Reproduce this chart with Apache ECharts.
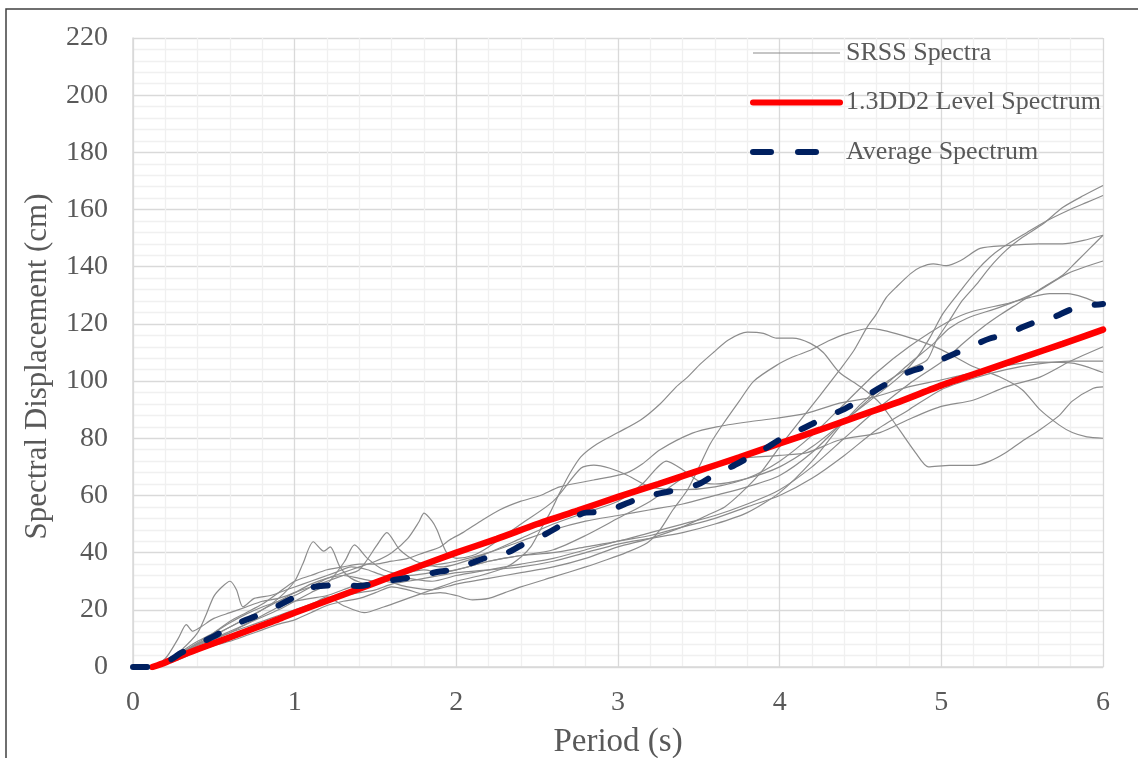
<!DOCTYPE html>
<html>
<head>
<meta charset="utf-8">
<script src="https://cdn.jsdelivr.net/npm/echarts@6/dist/echarts.min.js"></script>
<style>
  html, body { margin: 0; padding: 0; background: #fff; }
  #chart { width: 1138px; height: 758px; }
</style>
</head>
<body>
<div id="chart"></div>
<script>
// Period ticks and displacement ticks
const periodTicks = [0, 1, 2, 3, 4, 5, 6];
const dispTicks = [0, 20, 40, 60, 80, 100, 120, 140, 160, 180, 200, 220];

// SRSS spectra of the individual ground-motion pairs: [period (s), Sd (cm)]
const gm01 = [[0,0],[0.1,0],[0.2,1.5],[0.3,4],[0.4,6.5],[0.5,8.5],[0.6,10.5],[0.7,12.5],[0.8,14.5],[0.9,16.5],[1.0,18.5],[1.1,21.5],[1.2,24.5],[1.3,21.5],[1.43,19],[1.55,21],[1.7,24],[1.85,27],[2.0,30],[2.15,32],[2.31,35],[2.4,38.5],[2.46,42],[2.52,48],[2.58,54],[2.64,61],[2.7,67.5],[2.77,73.5],[2.87,78],[3.0,82],[3.14,86.4],[3.26,92],[3.36,98],[3.43,101.4],[3.51,106],[3.59,110],[3.68,114.3],[3.8,117.1],[3.9,116.7],[3.98,115],[4.08,115],[4.19,113.2],[4.27,110],[4.37,103],[4.5,98],[4.62,92.3],[4.74,83],[4.84,75],[4.92,70],[5.05,70.5],[5.2,70.5],[5.3,72],[5.4,75],[5.5,79],[5.61,83],[5.73,88],[5.81,93],[5.94,97.5],[6,98]];
const gm02 = [[0,0],[0.1,0],[0.2,1],[0.3,3],[0.4,5.5],[0.5,7.5],[0.6,9],[0.7,11],[0.8,13],[0.9,15],[1.0,16.5],[1.1,19],[1.2,21.5],[1.3,23],[1.4,24],[1.5,26],[1.6,28],[1.7,27],[1.8,25.5],[1.9,26],[2.0,25],[2.1,23.5],[2.2,24],[2.3,26],[2.4,28],[2.6,31.5],[2.8,35],[2.93,37.5],[3.05,40],[3.18,43.4],[3.26,48],[3.34,55],[3.43,62],[3.51,71],[3.57,78],[3.65,85],[3.75,93],[3.84,100],[3.98,105.5],[4.08,108.4],[4.19,110.8],[4.3,114],[4.42,116.7],[4.55,118.4],[4.62,118],[4.72,116.6],[4.87,114],[5.0,111],[5.1,108],[5.2,105],[5.36,101.5],[5.5,97],[5.61,90],[5.73,84.6],[5.81,82],[5.9,80.5],[6,80]];
const gm03 = [[0,0],[0.1,0],[0.2,2],[0.3,5],[0.4,8],[0.5,11],[0.6,14],[0.7,17],[0.8,20],[0.9,24],[1.0,30],[1.05,36],[1.115,43.8],[1.18,40.5],[1.22,42],[1.28,35],[1.35,31],[1.45,29],[1.55,30],[1.7,28],[1.85,27],[2.0,29],[2.2,31],[2.4,33],[2.6,35],[2.8,38],[3.0,42],[3.2,45],[3.4,49],[3.55,53],[3.66,56],[3.76,60.8],[3.88,67.8],[4.0,77],[4.13,86.4],[4.25,95],[4.37,103.8],[4.46,110.8],[4.54,118.8],[4.6,123.6],[4.66,129.3],[4.72,132.8],[4.81,137.6],[4.87,139.8],[4.95,141],[5.03,140.4],[5.12,142.2],[5.24,146.4],[5.4,147.4],[5.6,148],[5.75,148],[5.88,149.2],[6,151]];
const gm04 = [[0,0],[0.1,0],[0.2,1.5],[0.3,4.5],[0.4,7.5],[0.5,10],[0.6,12.5],[0.7,15],[0.8,17.5],[0.9,20],[1.0,23],[1.1,26],[1.2,29],[1.31,37],[1.37,42.7],[1.45,38],[1.55,34],[1.7,32],[1.85,33],[2.0,34],[2.2,37],[2.4,39],[2.6,40],[2.8,42],[3.0,44],[3.2,47],[3.4,50],[3.6,53],[3.8,57],[4.0,62],[4.2,70],[4.4,80],[4.6,90],[4.8,99],[5.01,107],[5.13,113],[5.26,119],[5.36,123],[5.47,127],[5.63,132.8],[5.75,137],[5.84,142],[5.92,146.5],[6,151]];
const gm05 = [[0,0],[0.1,0],[0.2,2],[0.3,5.5],[0.4,9],[0.5,12],[0.6,15.5],[0.7,18.5],[0.8,21],[0.9,23],[1.0,26],[1.1,28],[1.2,30],[1.3,32],[1.4,34],[1.51,42.7],[1.57,47],[1.65,41],[1.75,37],[1.9,35],[2.0,36],[2.2,40],[2.4,45],[2.6,50],[2.8,54],[3.0,58],[3.15,64],[3.3,72],[3.4,69],[3.5,65],[3.6,64],[3.8,66],[4.0,70],[4.2,77],[4.4,86],[4.6,96],[4.8,106],[4.95,113],[5.05,118.5],[5.16,122],[5.36,125.8],[5.57,130.6],[5.78,137.6],[6,142]];
const gm06 = [[0,0],[0.1,0],[0.2,2],[0.3,5],[0.4,8],[0.5,11],[0.6,14],[0.7,17],[0.8,20],[0.9,23],[1.0,25],[1.1,28],[1.2,31],[1.3,33],[1.4,35],[1.5,37],[1.6,40],[1.7,45],[1.77,50.9],[1.8,53.8],[1.85,51],[1.88,48],[1.94,40],[2.0,38],[2.1,39],[2.2,42],[2.4,50],[2.6,58],[2.77,69.5],[2.85,70.6],[2.95,69.5],[3.06,67],[3.2,63],[3.4,62],[3.6,63],[3.8,66],[4.0,72],[4.2,81],[4.4,92],[4.6,103],[4.8,112],[5.05,121],[5.2,124.5],[5.4,127],[5.55,129.3],[5.67,130.6],[5.78,130.6],[5.88,129.3],[6,126.5]];
const gm07 = [[0,0],[0.1,0],[0.2,2],[0.3,5],[0.4,8.5],[0.5,12],[0.6,16],[0.7,19],[0.8,22],[0.9,26],[1.0,30],[1.1,32],[1.2,34],[1.3,35],[1.4,36],[1.5,36],[1.6,37],[1.7,38],[1.8,40],[1.9,42],[1.96,44.5],[2.04,47],[2.15,51],[2.27,55],[2.4,58],[2.52,60],[2.64,63],[2.85,65.4],[3.05,67.8],[3.15,71],[3.26,76],[3.46,81.8],[3.61,84],[3.8,85.7],[3.98,87],[4.17,88.8],[4.37,92.3],[4.58,94.4],[4.79,97.9],[4.99,100.3],[5.2,103],[5.41,105.5],[5.61,106.6],[5.81,106.3],[6,103]];
const gm08 = [[0,0],[0.1,0],[0.2,3],[0.28,10],[0.33,14.8],[0.37,12.5],[0.42,14],[0.5,17],[0.6,19],[0.7,21],[0.8,23],[0.9,24],[1.0,26],[1.1,29],[1.2,31],[1.3,32],[1.4,31],[1.5,30],[1.6,31],[1.7,33],[1.8,34],[1.9,33],[2.0,34],[2.2,37],[2.4,39],[2.6,41],[2.8,46],[3.0,52],[3.2,58],[3.4,66],[3.6,71],[3.76,73],[4.0,74],[4.17,75],[4.37,79.4],[4.62,82],[4.79,86.4],[4.99,91],[5.2,93.4],[5.4,98],[5.61,101.4],[5.8,107],[6,112]];
const gm09 = [[0,0],[0.1,0],[0.2,2],[0.3,6],[0.4,12],[0.45,18],[0.5,24.7],[0.55,28],[0.6,30],[0.64,27],[0.68,21],[0.75,24],[0.85,25],[0.95,27],[1.05,29],[1.15,31],[1.25,33],[1.35,35],[1.45,34],[1.55,32],[1.7,31],[1.85,30],[2.0,32],[2.2,34],[2.4,36],[2.6,38],[2.8,41],[3.0,44],[3.2,46],[3.4,49],[3.6,52],[3.8,56],[4.0,60],[4.2,66],[4.4,74],[4.6,83],[4.8,90],[5.0,97],[5.2,101],[5.4,104],[5.6,106],[5.8,107],[6,107]];
const gm10 = [[0,0],[0.1,0],[0.2,1.5],[0.3,4],[0.4,7],[0.5,9.5],[0.6,12],[0.7,14],[0.8,16],[0.9,18],[1.0,20],[1.1,22],[1.2,24],[1.3,25],[1.4,26],[1.5,27],[1.6,29],[1.7,30],[1.8,31],[1.9,32],[2.0,33],[2.2,34],[2.4,35],[2.6,37],[2.8,40],[3.0,43],[3.2,45],[3.4,47],[3.6,50],[3.8,54],[4.0,61],[4.2,72],[4.4,86],[4.6,97],[4.75,103],[4.91,107.3],[4.97,114.3],[5.05,121.2],[5.13,128.2],[5.22,134],[5.3,139.8],[5.4,145.7],[5.5,150.2],[5.63,155],[5.75,160.7],[5.88,164.9],[6,168.4]];
const gm11 = [[0,0],[0.1,0],[0.2,2],[0.3,5],[0.4,8],[0.5,10],[0.6,12],[0.7,15],[0.8,18],[0.9,21],[1.0,23],[1.1,24],[1.2,25],[1.3,27],[1.4,29],[1.5,30],[1.6,31],[1.7,33],[1.8,35],[1.9,36],[2.0,37],[2.2,40],[2.4,44],[2.6,48],[2.8,51],[3.0,53],[3.2,55],[3.4,57],[3.6,60],[3.8,63],[4.0,67],[4.2,75],[4.4,86],[4.6,95],[4.75,102],[4.85,108.3],[4.93,115.3],[5.01,123.6],[5.12,131.7],[5.22,138.7],[5.3,143.3],[5.38,146.8],[5.53,152],[5.65,156],[5.78,159.6],[5.9,162.5],[6,164.9]];

// 1.3 x DD2 design spectrum
const dd2Spectrum = [[0.12,0],[0.2,1.6],[0.3,4],[0.4,6.2],[0.5,8.3],[0.6,10.4],[0.7,12.5],[0.8,14.6],[0.9,16.7],[1.0,19],[1.25,24.2],[1.5,29.5],[1.75,34.8],[2.0,40],[2.25,44.8],[2.5,50],[2.75,54.7],[3.0,59.5],[3.25,64],[3.5,68.7],[3.75,73.3],[4.0,78.2],[4.25,83],[4.5,88],[4.75,93],[5.0,98.5],[5.25,103.3],[5.5,108.2],[5.75,113],[6.0,118]];

// Mean of the SRSS spectra
const avgSpectrum = [[0,0],[0.1,0],[0.2,1.5],[0.3,5],[0.4,8],[0.5,10.7],[0.6,14],[0.7,16.5],[0.8,18.7],[0.9,21.5],[1.0,24.5],[1.1,27.7],[1.2,28.5],[1.3,28.8],[1.4,28.3],[1.5,29.3],[1.6,30.3],[1.7,31.2],[1.8,32.3],[1.9,33.4],[2.0,34.3],[2.1,36.5],[2.2,38.5],[2.3,39.6],[2.4,42.5],[2.5,45],[2.6,48],[2.7,51.5],[2.8,54],[2.9,54.3],[3.0,56],[3.1,58.3],[3.2,60],[3.3,61.2],[3.4,62.3],[3.5,64],[3.6,67.3],[3.7,70],[3.8,73],[3.9,76],[4.0,79.5],[4.1,82.2],[4.2,85],[4.3,87.8],[4.4,90.2],[4.5,93.5],[4.6,97],[4.7,100.3],[4.8,103.2],[4.9,105],[5.0,107.5],[5.1,110],[5.2,112.5],[5.3,114.9],[5.4,116.2],[5.5,118.8],[5.6,121],[5.7,122.5],[5.8,125],[5.9,126.3],[6.0,127]];

const srssSets = [gm01, gm02, gm03, gm04, gm05, gm06, gm07, gm08, gm09, gm10, gm11];

const FONT = 'Liberation Serif';
const TEXT = '#595959';
const GRAY = '#8c8c8c';
const RED = '#ff0000';
const NAVY = '#002060';

const series = srssSets.map(d => ({
  name: 'SRSS Spectra',
  type: 'line',
  data: d,
  showSymbol: false,
  symbol: 'none',
  smooth: 0.25,
  lineStyle: { color: GRAY, width: 1.2 },
  itemStyle: { color: GRAY },
  z: 2
}));

series.push({
  name: '1.3DD2 Level Spectrum',
  type: 'line',
  data: dd2Spectrum,
  showSymbol: false,
  symbol: 'none',
  smooth: 0.2,
  lineStyle: { color: RED, width: 6.5, cap: 'round' },
  itemStyle: { color: RED },
  z: 3
});

series.push({
  name: 'Average Spectrum',
  type: 'line',
  data: avgSpectrum,
  showSymbol: false,
  symbol: 'none',
  smooth: 0.3,
  lineStyle: { color: NAVY, width: 6, type: [14, 26], cap: 'round' },
  itemStyle: { color: NAVY },
  z: 4
});

const chart = echarts.init(document.getElementById('chart'), null, { renderer: 'canvas' });
chart.setOption({
  animation: false,
  backgroundColor: '#ffffff',
  textStyle: { fontFamily: FONT },
  graphic: [{
    type: 'rect',
    shape: { x: 6, y: 9, width: 1300, height: 900 },
    style: { fill: 'none', stroke: '#404040', lineWidth: 1.5 },
    silent: true,
    z: -10
  }],
  grid: { left: 133, right: 35, top: 38, bottom: 91, containLabel: false, outerBoundsMode: 'none' },
  legend: {
    data: [
      { name: 'SRSS Spectra', lineStyle: { width: 1.2, color: GRAY } },
      { name: '1.3DD2 Level Spectrum', lineStyle: { width: 6, color: RED, cap: 'round' } },
      { name: 'Average Spectrum', lineStyle: { width: 6, color: NAVY, type: [18, 27], cap: 'round' } }
    ],
    orient: 'vertical',
    left: 750,
    top: 40,
    padding: 0,
    itemWidth: 87,
    itemHeight: 20,
    itemGap: 23.5,
    itemStyle: { opacity: 0, borderWidth: 0 },
    textStyle: { fontFamily: FONT, fontSize: 26, color: TEXT, padding: [0, 0, 0, 1] }
  },
  xAxis: {
    type: 'value',
    min: periodTicks[0],
    max: periodTicks[periodTicks.length - 1],
    interval: 1,
    name: 'Period (s)',
    nameLocation: 'middle',
    nameGap: 59,
    nameTextStyle: { fontFamily: FONT, fontSize: 33, color: TEXT },
    axisLine: { show: true, lineStyle: { color: '#d9d9d9', width: 1.5 } },
    axisTick: { show: false },
    axisLabel: { fontFamily: FONT, fontSize: 28, color: TEXT, margin: 22 },
    splitLine: { show: true, lineStyle: { color: '#d9d9d9', width: 1.3 } },
    minorTick: { show: false, splitNumber: 5 },
    minorSplitLine: { show: true, lineStyle: { color: '#f0f0f0', width: 1.3 } }
  },
  yAxis: {
    type: 'value',
    min: dispTicks[0],
    max: dispTicks[dispTicks.length - 1],
    interval: 20,
    name: 'Spectral Displacement (cm)',
    nameLocation: 'middle',
    nameGap: 80,
    nameRotate: 90,
    nameTextStyle: { fontFamily: FONT, fontSize: 31, color: TEXT, padding: [0, 28, 0, 0] },
    axisLine: { show: true, lineStyle: { color: '#d9d9d9', width: 1.5 } },
    axisTick: { show: false },
    axisLabel: { fontFamily: FONT, fontSize: 28, color: TEXT, margin: 25 },
    splitLine: { show: true, lineStyle: { color: '#d9d9d9', width: 1.3 } },
    minorTick: { show: false, splitNumber: 5 },
    minorSplitLine: { show: true, lineStyle: { color: '#f0f0f0', width: 1.3 } }
  },
  series: series
});
</script>
</body>
</html>
